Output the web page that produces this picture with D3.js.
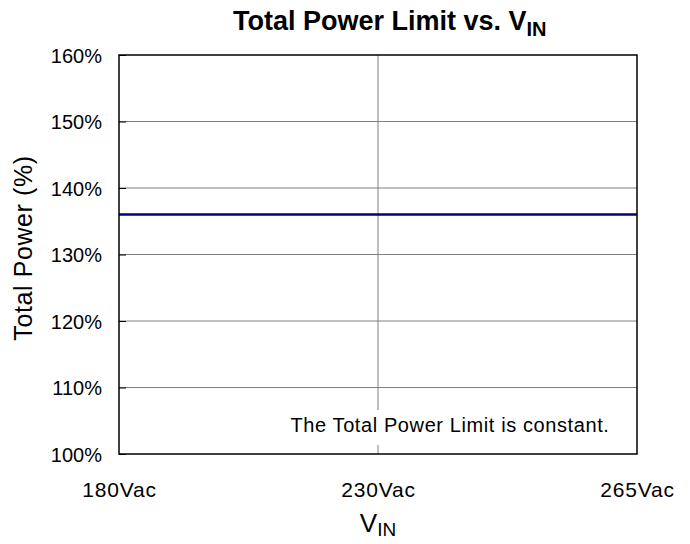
<!DOCTYPE html>
<html>
<head>
<meta charset="utf-8">
<script src="https://cdn.jsdelivr.net/npm/d3@7"></script>
<style>
body{margin:0;background:#fff;}
text{font-family:Arial,"Liberation Sans",sans-serif;fill:#000;}
</style>
</head>
<body>
<svg id="chart" width="690" height="544"></svg>
<script>
const categories = ["180Vac", "230Vac", "265Vac"];
const values = [136, 136, 136];
const yTicks = [100, 110, 120, 130, 140, 150, 160];
const annotation = "The Total Power Limit is constant.";

const FONT = "Arial, 'Liberation Sans', sans-serif";
const svg = d3.select("#chart");
const L = 119, R = 637, T = 55, B = 454;

const x = d3.scalePoint().domain(categories).range([L, R]);
const y = d3.scaleLinear().domain([100, 160]).range([B, T]);

// gridlines
svg.append("g").selectAll("line").data(yTicks.slice(1, -1)).join("line")
  .attr("x1", L).attr("x2", R).attr("y1", d => y(d)).attr("y2", d => y(d))
  .attr("stroke", "#808080").attr("stroke-width", 1);
svg.append("g").selectAll("line").data(categories.slice(1, -1)).join("line")
  .attr("x1", d => x(d)).attr("x2", d => x(d)).attr("y1", T).attr("y2", B)
  .attr("stroke", "#808080").attr("stroke-width", 1);

// annotation with white background
const ann = svg.append("g");
const annText = ann.append("text")
  .attr("x", 450).attr("y", 432)
  .attr("text-anchor", "middle")
  .attr("font-size", 20)
  .attr("fill", "#222")
  .style("letter-spacing", "0.6px")
  .text(annotation);
const bb = annText.node().getBBox();
ann.insert("rect", "text").attr("x", bb.x - 6).attr("y", 410).attr("width", bb.width + 12).attr("height", 35).attr("fill", "#fff");

// data line
svg.append("path")
  .datum(categories.map((c, i) => [c, values[i]]))
  .attr("fill", "none").attr("stroke", "#000080").attr("stroke-width", 2.5)
  .attr("d", d3.line().x(d => x(d[0])).y(d => y(d[1])));

// y axis
const yAxis = svg.append("g").attr("transform", `translate(${L},0)`)
  .call(d3.axisLeft(y).tickValues(yTicks).tickFormat(d => d + "%").tickSizeInner(-7).tickSizeOuter(0).tickPadding(17));
yAxis.select(".domain").remove();
yAxis.selectAll("line").attr("stroke", "#000");
yAxis.selectAll("text").attr("font-size", 20).attr("font-family", FONT).attr("fill", "#000").attr("dy", "0.36em");

// x axis labels
const xAxis = svg.append("g").attr("transform", `translate(0,${B})`)
  .call(d3.axisBottom(x).tickSize(0).tickPadding(0));
xAxis.select(".domain").remove();
xAxis.selectAll("text").attr("font-size", 21).attr("font-family", FONT).attr("fill", "#000")
  .attr("dy", null).attr("y", 43).style("letter-spacing", "0.8px");

// plot border
svg.append("rect").attr("x", L).attr("y", T).attr("width", R - L).attr("height", B - T)
  .attr("fill", "none").attr("stroke", "#000").attr("stroke-width", 1.5);

// title
const title = svg.append("text").attr("x", 233).attr("y", 30).attr("text-anchor", "start")
  .attr("font-size", 27).attr("font-weight", "bold");
title.append("tspan").text("Total Power Limit vs. V");
title.append("tspan").attr("dy", 6).attr("font-size", 20).text("IN");

// x title
const xt = svg.append("text").attr("x", 378).attr("y", 532).attr("text-anchor", "middle").attr("font-size", 26);
xt.append("tspan").text("V");
xt.append("tspan").attr("dy", 4).attr("font-size", 19).text("IN");

// y title
svg.append("text").attr("transform", "translate(32,248) rotate(-90)").attr("text-anchor", "middle")
  .attr("font-size", 25).style("letter-spacing", "0.6px").text("Total Power (%)");
</script>
</body>
</html>
